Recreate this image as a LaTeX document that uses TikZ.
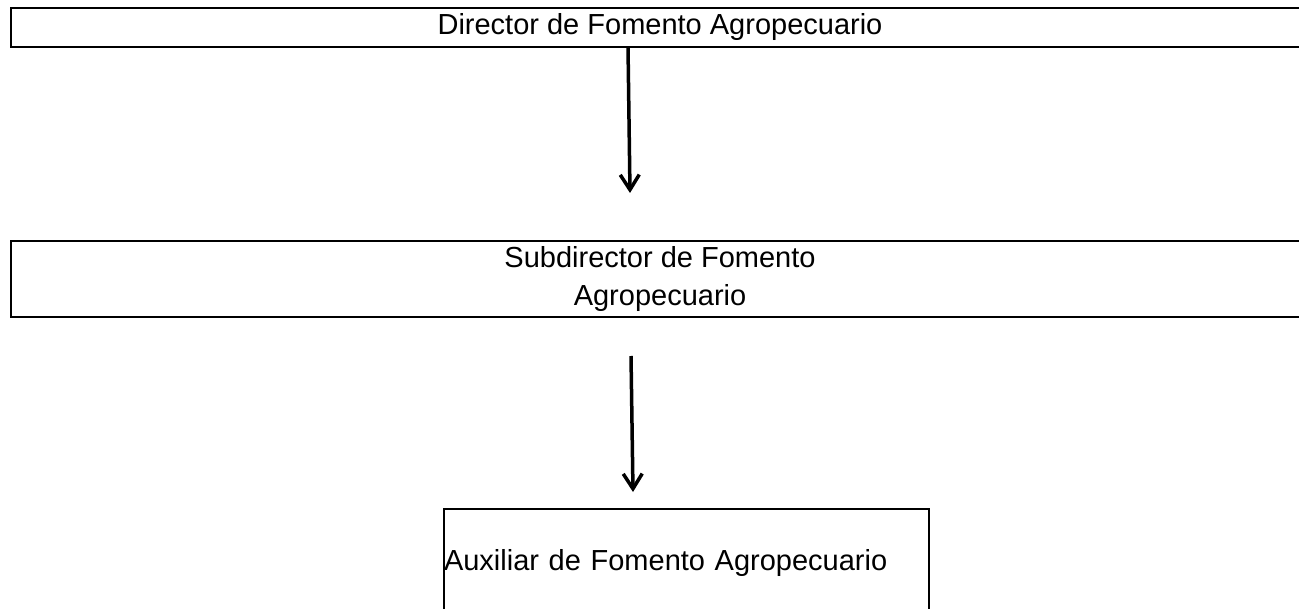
\documentclass[tikz,border=0pt]{standalone}
\usepackage{fontspec}
\setmainfont{Liberation Sans}
\usetikzlibrary{arrows.meta}
\begin{document}
\begin{tikzpicture}[x=0.5pt,y=-0.5pt,
				every node/.style={draw,rectangle,line width=1pt,inner sep=0pt,
					font=\fontsize{14.5}{19}\selectfont},
				link/.style={line width=1.75pt,-{Straight Barb[length=7.5pt,width=9.5pt]}}]
\useasboundingbox (0,0) rectangle (1299,609);
\node[minimum width=649pt, minimum height=19.5pt] (director) at (660,27.5) {Director de Fomento Agropecuario};
\node[minimum width=649pt, minimum height=38pt, align=center] (subdirector) at (660,279) {Subdirector de Fomento\\Agropecuario};
\node[minimum width=242.5pt, minimum height=54pt, text width=242.5pt, align=left] (auxiliar) at (686.5,563) {Auxiliar de Fomento Agropecuario};
\coordinate (a1) at (628,47);
\coordinate (b1) at (630,193);
\coordinate (a2) at (631,356);
\coordinate (b2) at (633,492);
\draw[link] (a1) -- (b1);
\draw[link] (a2) -- (b2);
\end{tikzpicture}
\end{document}
